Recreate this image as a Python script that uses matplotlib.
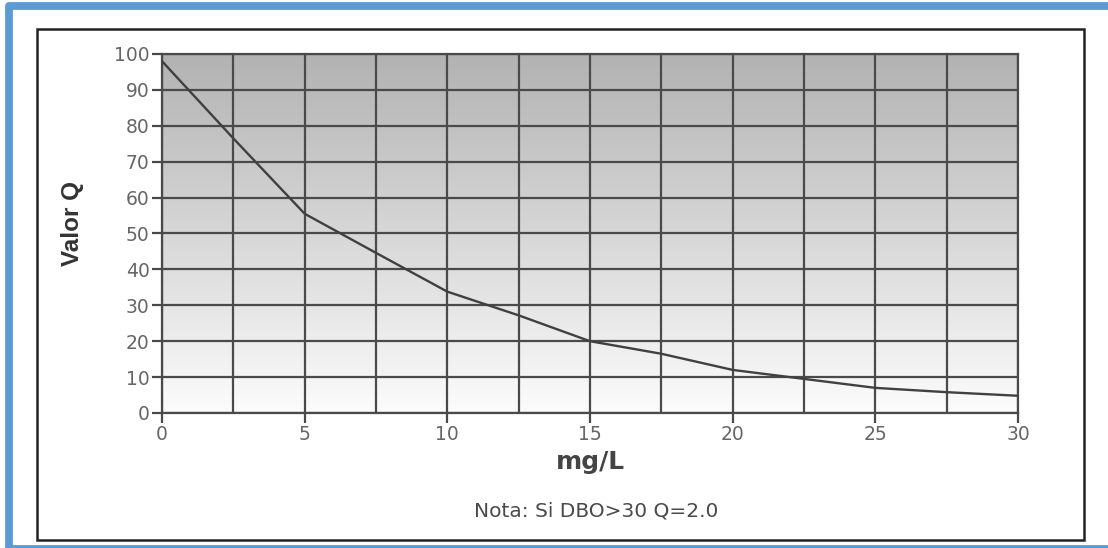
import numpy as np
import matplotlib.pyplot as plt
from matplotlib.patches import Rectangle
from matplotlib.lines import Line2D
from matplotlib.colors import LinearSegmentedColormap

# Datos (DBO en mg/L vs Valor Q)
dbo = [0, 2.5, 5, 7.5, 10, 12.5, 15, 17.5, 20, 22.5, 25, 27.5, 30]
valor_q = [98, 76.5, 55.5, 44.6, 33.8, 27.2, 20, 16.5, 12, 9.5, 7, 5.8, 4.8]
x_ticks = [0, 5, 10, 15, 20, 25, 30]
y_ticks = [0, 10, 20, 30, 40, 50, 60, 70, 80, 90, 100]

plt.rcParams['font.family'] = ['DejaVu Sans']

W, H = 1108, 548
fig = plt.figure(figsize=(W / 100, H / 100), dpi=100)

# Marco azul exterior (arriba, izquierda y abajo) y caja negra interior
bx = np.array([1200, 9, 9, 1200]) / W
by = 1 - np.array([5.5, 5.5, 549, 549]) / H
fig.add_artist(Line2D(bx, by, transform=fig.transFigure, color='#5b9bd5',
                      linewidth=5.6, solid_joinstyle='round'))
fig.patches.append(Rectangle((37 / W, (H - 540) / H), 1047 / W, 511 / H,
                             transform=fig.transFigure, fill=False,
                             edgecolor='#222222', linewidth=1.8))

ax = fig.add_axes([162 / W, (H - 413) / H, 856 / W, 359 / H])

# Fondo degradado (gris arriba, casi blanco abajo)
cmap = LinearSegmentedColormap.from_list('fondo', ['#b2b2b2', '#fcfcfc'])
grad = np.linspace(0, 1, 256).reshape(-1, 1)
ax.imshow(grad, extent=[0, 30, 0, 100], aspect='auto', cmap=cmap,
          origin='upper', zorder=0)

ax.set_xlim(0, 30)
ax.set_ylim(0, 100)
ax.set_xticks(x_ticks)
ax.set_xticks(np.arange(0, 30.1, 2.5), minor=True)
ax.set_yticks(y_ticks)

ax.grid(which='both', color='#4a4a4a', linewidth=1.6, zorder=1)
ax.set_axisbelow(False)

ax.plot(dbo, valor_q, color='#404040', linewidth=1.7, zorder=3)

for s in ax.spines.values():
    s.set_color('#4a4a4a')
    s.set_linewidth(1.6)

ax.tick_params(axis='both', which='major', length=7, width=1.6,
               color='#4a4a4a', labelcolor='#666666', labelsize=13.5)
ax.tick_params(axis='x', which='minor', length=0)
ax.tick_params(axis='x', pad=2)
ax.tick_params(axis='y', pad=2)

ax.set_xlabel('mg/L', fontsize=18, fontweight='bold', color='#444444',
              labelpad=4)

fig.text(72 / W, (H - 224) / H, 'Valor Q', fontsize=17.5, fontweight='bold',
         color='#333333', rotation=90, ha='center', va='center',
         family=['Liberation Sans', 'DejaVu Sans'])

fig.text(596 / W, (H - 511) / H, 'Nota: Si DBO>30 Q=2.0', fontsize=14.5,
         color='#4a4a4a', ha='center', va='center')

fig.savefig('out.png', dpi=100)
